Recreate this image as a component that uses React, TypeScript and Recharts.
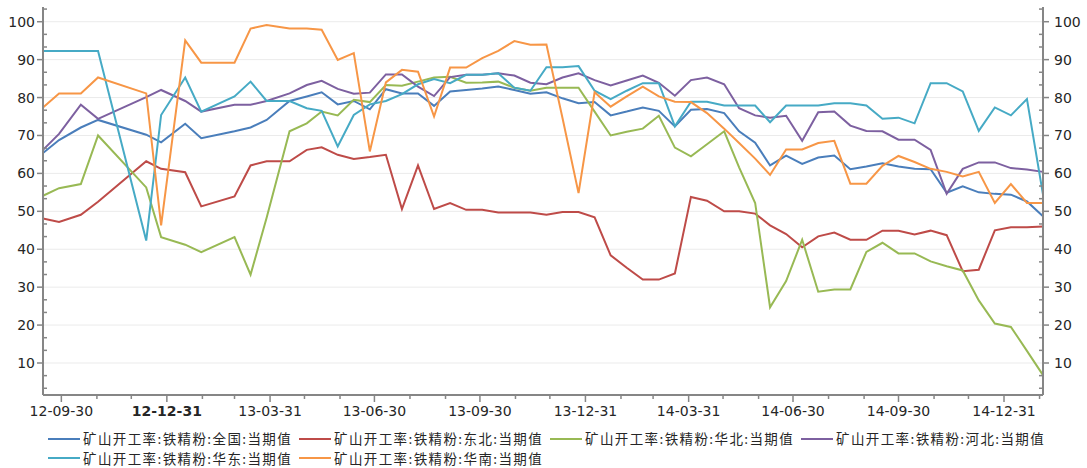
import React from "react";
import { LineChart, Line, XAxis, YAxis, ReferenceLine, Legend } from "recharts";

// sample dates (roughly every two weeks)
const dates = [
  "2012-09-14", "2012-09-28", "2012-10-17", "2012-11-01", "2012-12-13", "2012-12-26",
  "2013-01-16", "2013-01-30", "2013-02-28", "2013-03-14", "2013-03-28", "2013-04-17",
  "2013-05-02", "2013-05-15", "2013-05-29", "2013-06-12", "2013-06-26", "2013-07-10",
  "2013-07-24", "2013-08-07", "2013-08-21", "2013-09-04", "2013-09-18", "2013-10-02",
  "2013-10-16", "2013-10-30", "2013-11-13", "2013-11-27", "2013-12-11", "2013-12-25",
  "2014-01-08", "2014-01-22", "2014-02-05", "2014-02-19", "2014-03-05", "2014-03-19",
  "2014-04-02", "2014-04-16", "2014-05-01", "2014-05-14", "2014-05-28", "2014-06-10",
  "2014-06-24", "2014-07-08", "2014-07-22", "2014-08-05", "2014-08-19", "2014-09-02",
  "2014-09-16", "2014-09-30", "2014-10-14", "2014-10-28", "2014-11-11", "2014-11-25",
  "2014-12-09", "2014-12-23", "2015-01-06", "2015-01-20", "2015-02-03",
];

const quanguo = [
  65.4, 68.8, 72.1, 74.1, 70.2, 68.2, 73.1, 69.3, 71.1, 72.1,
  74.1, 79.1, 80.3, 81.4, 78.2, 79.1, 76.9, 82.2, 81.1, 81.1,
  77.8, 81.6, 82.0, 82.4, 82.9, 82.0, 81.0, 81.4, 79.8, 78.5,
  78.8, 75.3, 76.3, 77.4, 76.5, 72.4, 76.8, 77.0, 75.9, 71.1,
  68.1, 62.1, 64.7, 62.5, 64.2, 64.7, 61.1, 61.8, 62.7, 61.8,
  61.2, 61.1, 54.9, 56.6, 55.0, 54.6, 54.4, 52.6, 48.7,
];
const dongbei = [
  48.1, 47.2, 49.1, 52.5, 63.2, 61.2, 60.3, 51.3, 53.9, 62.1,
  63.2, 63.2, 66.2, 66.9, 64.9, 63.8, 64.3, 64.9, 50.6, 62.1,
  50.6, 52.2, 50.4, 50.4, 49.7, 49.7, 49.7, 49.1, 49.8, 49.8,
  48.4, 38.4, 35.1, 32.0, 32.0, 33.6, 53.8, 52.8, 50.0, 50.0,
  49.4, 46.3, 44.0, 40.5, 43.4, 44.4, 42.5, 42.5, 44.9, 44.9,
  43.9, 44.9, 43.7, 34.2, 34.6, 45.0, 45.8, 45.8, 46.0,
];
const huabei = [
  54.1, 56.1, 57.2, 70.0, 56.3, 43.2, 41.2, 39.2, 43.2, 33.3,
  48.3, 71.1, 73.2, 76.3, 75.3, 79.4, 78.8, 83.3, 83.1, 84.2,
  85.3, 85.5, 83.9, 84.0, 84.2, 82.6, 81.8, 82.6, 82.6, 82.6,
  76.3, 70.0, 71.0, 71.8, 75.2, 66.8, 64.5, 67.7, 71.1, 61.6,
  52.2, 24.7, 31.6, 42.5, 28.8, 29.4, 29.4, 39.3, 41.7, 38.9,
  38.9, 36.8, 35.5, 34.4, 26.5, 20.4, 19.5, 13.2, 6.8,
];
const hebei = [
  66.2, 70.4, 78.1, 74.4, 80.1, 82.0, 79.1, 76.3, 78.1, 78.1,
  79.1, 81.1, 83.3, 84.4, 82.3, 81.0, 81.3, 86.1, 86.1, 82.9,
  80.4, 85.4, 86.0, 86.0, 86.4, 85.8, 83.9, 83.5, 85.3, 86.4,
  84.6, 83.2, 84.5, 85.8, 83.9, 80.5, 84.6, 85.3, 83.5, 77.2,
  75.3, 74.7, 75.2, 68.6, 76.1, 76.3, 72.6, 71.2, 71.1, 68.9,
  68.9, 66.2, 54.6, 61.2, 62.9, 62.9, 61.4, 61.0, 60.4,
];
const huadong = [
  92.3, 92.3, 92.3, 92.3, 42.3, 75.4, 85.3, 76.3, 80.3, 84.2,
  79.1, 79.1, 77.2, 76.5, 67.1, 75.4, 78.2, 79.1, 80.9, 83.5,
  84.9, 83.8, 86.0, 86.0, 86.4, 82.6, 81.8, 88.0, 88.0, 88.3,
  81.8, 79.6, 81.8, 83.8, 83.8, 72.4, 78.9, 78.9, 77.9, 77.9,
  77.9, 73.5, 77.9, 77.9, 77.9, 78.5, 78.5, 77.9, 74.4, 74.7,
  73.2, 83.8, 83.8, 81.6, 71.2, 77.4, 75.3, 79.6, 54.4,
];
const huanan = [
  77.4, 81.1, 81.1, 85.3, 81.1, 46.3, 95.1, 89.2, 89.2, 98.2,
  99.1, 98.2, 98.2, 97.9, 89.9, 91.7, 65.8, 84.0, 87.3, 86.8,
  75.0, 87.9, 87.9, 90.4, 92.3, 94.9, 93.9, 94.0, 74.6, 54.8,
  81.4, 77.6, 80.3, 82.9, 80.3, 78.9, 78.8, 75.9, 71.8, 68.0,
  63.9, 59.6, 66.3, 66.3, 68.0, 68.6, 57.3, 57.3, 62.0, 64.6,
  63.0, 61.2, 60.4, 59.2, 60.4, 52.2, 57.2, 52.2, 52.2,
];

const seriesList = [
  { key: "quanguo", name: "矿山开工率:铁精粉:全国:当期值", color: "#4a7ebb", values: quanguo },
  { key: "dongbei", name: "矿山开工率:铁精粉:东北:当期值", color: "#be4b48", values: dongbei },
  { key: "huabei", name: "矿山开工率:铁精粉:华北:当期值", color: "#98b954", values: huabei },
  { key: "hebei", name: "矿山开工率:铁精粉:河北:当期值", color: "#7d60a0", values: hebei },
  { key: "huadong", name: "矿山开工率:铁精粉:华东:当期值", color: "#46aac5", values: huadong },
  { key: "huanan", name: "矿山开工率:铁精粉:华南:当期值", color: "#f79646", values: huanan },
];

const gridValues = [10, 20, 30, 40, 50, 60, 70, 80, 90, 100];
const boldLabels = ["12-12-31"];

const toTime = (s: string) => Date.parse(s + "T00:00:00Z");

const data = dates.map((d, i) => {
  const row: any = { t: toTime(d) };
  seriesList.forEach((s) => (row[s.key] = s.values[i]));
  return row;
});

const xMin = toTime(dates[0]);
const xMax = toTime(dates[dates.length - 1]);

// month-end ticks along the x axis
const monthTicks: number[] = [];
for (let y = 2012, m = 8; ; ) {
  const t = Date.UTC(y, m + 1, 0);
  if (t > xMax) break;
  monthTicks.push(t);
  m++;
  if (m > 11) {
    m = 0;
    y++;
  }
}

// y ticks every 10/3, labels on the multiples of ten
const yTicks = Array.from({ length: 31 }, (_, i) => ((i + 1) * 10) / 3);
const isMajor = (v: number) => Math.abs(v / 10 - Math.round(v / 10)) < 1e-6;

const AXIS = "#868686";
const TEXT = "#262626";
const FONT = "'DejaVu Sans', Verdana, sans-serif";

const LeftTick = (props: any) => {
  const { x, y, payload } = props;
  const v = payload.value;
  if (!isMajor(v)) {
    return <line x1={x} x2={x + 4} y1={y} y2={y} stroke={AXIS} strokeWidth={1.5} />;
  }
  return (
    <g>
      <line x1={x - 6} x2={x} y1={y} y2={y} stroke={AXIS} strokeWidth={1.5} />
      <text x={x - 8} y={y} dy={5} textAnchor="end" fontSize={14} fontFamily={FONT} fill={TEXT}>
        {Math.round(v)}
      </text>
    </g>
  );
};

const RightTick = (props: any) => {
  const { x, y, payload } = props;
  const v = payload.value;
  if (!isMajor(v)) {
    return <line x1={x - 4} x2={x} y1={y} y2={y} stroke={AXIS} strokeWidth={1.5} />;
  }
  return (
    <g>
      <line x1={x} x2={x + 6} y1={y} y2={y} stroke={AXIS} strokeWidth={1.5} />
      <text x={x + 11} y={y} dy={5} textAnchor="start" fontSize={14} fontFamily={FONT} fill={TEXT}>
        {Math.round(v)}
      </text>
    </g>
  );
};

const XTick = (props: any) => {
  const { x, y, payload } = props;
  const d = new Date(payload.value);
  const m = d.getUTCMonth();
  const major = m % 3 === 2;
  const pad = (n: number) => String(n).padStart(2, "0");
  const label = `${pad(d.getUTCFullYear() % 100)}-${pad(m + 1)}-${pad(d.getUTCDate())}`;
  return (
    <g>
      <line x1={x} x2={x} y1={y} y2={y + (major ? 7 : 4)} stroke={AXIS} strokeWidth={1.5} />
      {major && (
        <text
          x={x}
          y={y + 21}
          textAnchor="middle"
          fontSize={14}
          fontFamily={FONT}
          fontWeight={boldLabels.includes(label) ? "bold" : "normal"}
          fill={TEXT}
        >
          {label}
        </text>
      )}
    </g>
  );
};

const renderLegend = () => (
  <div
    style={{
      display: "flex",
      flexWrap: "wrap",
      width: 1087,
      height: 43,
      boxSizing: "border-box",
      paddingLeft: 48,
      paddingTop: 4,
    }}
  >
    {seriesList.map((s) => (
      <div key={s.key} style={{ width: 251, height: 19, display: "flex", alignItems: "center" }}>
        <svg width={32} height={4} style={{ flex: "none" }}>
          <line x1={0} x2={32} y1={2} y2={2} stroke={s.color} strokeWidth={2} />
        </svg>
        <span
          style={{
            marginLeft: 3,
            fontSize: 13.5,
            letterSpacing: 1.4,
            fontFamily: "'Noto Sans CJK SC', sans-serif",
            color: TEXT,
            whiteSpace: "nowrap",
            lineHeight: "19px",
          }}
        >
          {s.name}
        </span>
      </div>
    ))}
  </div>
);

export default function App() {
  return (
    <div style={{ position: "absolute", left: 0, top: 0, background: "#fff" }}>
      <LineChart width={1087} height={468} data={data} margin={{ top: 7, right: 0, left: 0, bottom: 0 }}>
        {gridValues.map((v) => (
          <ReferenceLine key={v} y={v} yAxisId="left" stroke="#ebebeb" strokeWidth={1} />
        ))}
        <XAxis
          dataKey="t"
          type="number"
          scale="linear"
          domain={[xMin, xMax]}
          ticks={monthTicks}
          interval={0}
          tickSize={0}
          tickMargin={0}
          tick={<XTick />}
          height={30}
          axisLine={{ stroke: AXIS, strokeWidth: 2 }}
          tickLine={false}
        />
        <YAxis
          yAxisId="left"
          orientation="left"
          width={43}
          type="number"
          domain={[1.56, 103.88]}
          allowDataOverflow
          ticks={yTicks}
          interval={0}
          tickSize={0}
          tickMargin={0}
          tick={<LeftTick />}
          axisLine={{ stroke: AXIS, strokeWidth: 2 }}
          tickLine={false}
        />
        <YAxis
          yAxisId="right"
          orientation="right"
          width={44}
          type="number"
          domain={[1.56, 103.88]}
          allowDataOverflow
          ticks={yTicks}
          interval={0}
          tickSize={0}
          tickMargin={0}
          tick={<RightTick />}
          axisLine={{ stroke: AXIS, strokeWidth: 2 }}
          tickLine={false}
        />
        <Legend verticalAlign="bottom" align="left" content={renderLegend} wrapperStyle={{ left: 0, bottom: 0 }} />
        {seriesList.map((s) => (
          <Line
            key={s.key}
            yAxisId="left"
            type="linear"
            dataKey={s.key}
            name={s.name}
            stroke={s.color}
            strokeWidth={2}
            dot={false}
            activeDot={false}
            isAnimationActive={false}
          />
        ))}
      </LineChart>
    </div>
  );
}
